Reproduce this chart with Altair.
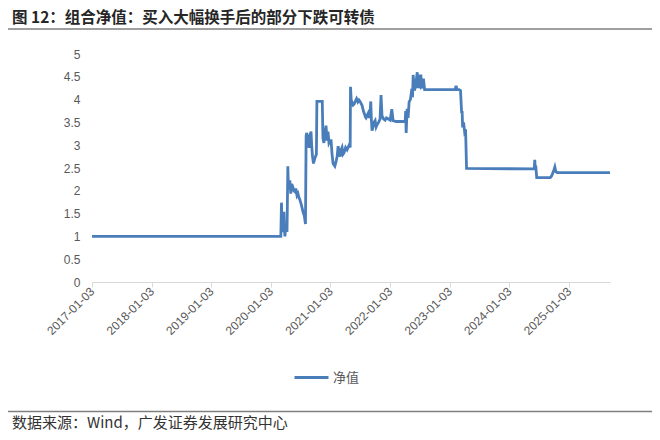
import pandas as pd
import altair as alt

# 组合净值 (date, value)
dates = [
    "2017-01-03", "2020-03-05", "2020-03-09", "2020-03-12", "2020-03-15", "2020-03-19",
    "2020-03-24", "2020-03-27", "2020-03-30", "2020-04-05", "2020-04-12", "2020-04-17",
    "2020-04-20", "2020-04-23", "2020-04-29", "2020-05-05", "2020-05-11", "2020-05-18",
    "2020-05-24", "2020-05-30", "2020-06-05", "2020-06-12", "2020-06-18", "2020-06-24",
    "2020-06-30", "2020-07-08", "2020-07-19", "2020-07-27", "2020-08-03", "2020-08-07",
    "2020-08-10", "2020-08-13", "2020-08-19", "2020-08-25", "2020-08-30", "2020-09-06",
    "2020-09-10", "2020-09-15", "2020-09-21", "2020-09-25", "2020-09-30", "2020-10-09",
    "2020-10-12", "2020-11-14", "2020-11-18", "2020-11-24", "2020-11-30", "2020-12-07",
    "2020-12-13", "2020-12-19", "2020-12-25", "2021-01-01", "2021-01-07", "2021-01-13",
    "2021-01-19", "2021-01-30", "2021-02-07", "2021-02-13", "2021-02-19", "2021-02-25",
    "2021-03-03", "2021-03-09", "2021-03-15", "2021-03-21", "2021-03-27", "2021-04-06",
    "2021-04-15", "2021-04-27", "2021-05-04", "2021-05-06", "2021-05-10", "2021-05-15",
    "2021-05-22", "2021-05-28", "2021-06-05", "2021-06-12", "2021-06-20", "2021-06-27",
    "2021-07-05", "2021-07-16", "2021-07-24", "2021-07-31", "2021-08-05", "2021-08-09",
    "2021-08-15", "2021-08-22", "2021-08-28", "2021-09-03", "2021-09-07", "2021-09-11",
    "2021-09-15", "2021-09-21", "2021-09-27", "2021-10-04", "2021-10-10", "2021-10-16",
    "2021-10-25", "2021-11-03", "2021-11-09", "2021-11-15", "2021-11-24", "2021-12-04",
    "2021-12-12", "2021-12-22", "2022-01-04", "2022-01-14", "2022-01-22", "2022-02-10",
    "2022-03-10", "2022-04-06", "2022-04-09", "2022-04-12", "2022-04-18", "2022-04-24",
    "2022-04-30", "2022-05-08", "2022-05-17", "2022-05-21", "2022-05-25", "2022-06-01",
    "2022-06-06", "2022-06-12", "2022-06-19", "2022-06-23", "2022-06-27", "2022-07-01",
    "2022-07-06", "2022-07-11", "2022-07-16", "2022-07-22", "2022-07-27", "2022-08-03",
    "2023-02-06", "2023-02-12", "2023-02-17", "2023-03-02", "2023-03-11", "2023-03-18",
    "2023-03-21", "2023-03-24", "2023-03-30", "2023-04-05", "2023-04-11", "2023-04-17",
    "2024-06-05", "2024-06-08", "2024-06-11", "2024-06-14", "2024-06-20", "2024-09-11",
    "2024-09-20", "2024-10-03", "2024-10-09", "2024-10-15", "2024-10-24", "2025-09-12",
]
values = [
    1.00, 1.00, 1.74, 1.30, 1.09, 1.40,
    1.54, 1.20, 1.00, 1.22, 1.10, 2.54,
    2.10, 2.05, 2.23, 1.94, 2.15, 2.08,
    2.00, 1.98, 2.05, 1.90, 1.94, 1.85,
    1.80, 1.70, 1.54, 1.45, 1.27, 3.20,
    3.27, 3.24, 3.10, 2.94, 3.20, 3.30,
    3.00, 2.76, 2.60, 2.65, 2.72, 2.80,
    3.96, 3.96, 3.16, 3.05, 3.25, 3.43,
    3.10, 3.30, 3.05, 3.10, 3.10, 2.80,
    2.60, 2.54, 2.65, 2.75, 2.98, 2.85,
    2.75, 2.90, 2.95, 2.80, 2.83, 2.95,
    2.90, 3.00, 2.95, 4.28, 4.00, 3.94,
    3.88, 3.90, 3.97, 4.02, 3.95, 3.99,
    3.95, 3.87, 3.75, 3.68, 3.62, 3.60,
    3.65, 3.70, 3.60, 3.70, 3.96, 3.55,
    3.32, 3.40, 3.50, 3.54, 3.40, 3.45,
    3.50, 3.57, 4.10, 3.64, 3.58, 3.55,
    3.60, 3.58, 3.55, 3.79, 3.54, 3.52,
    3.52, 3.52, 3.75, 3.27, 3.80, 3.60,
    3.95, 4.00, 4.24, 4.05, 4.54, 4.20,
    4.25, 4.40, 4.60, 4.25, 4.55, 4.30,
    4.28, 4.55, 4.25, 4.30, 4.46, 4.22,
    4.22, 4.30, 4.22, 4.22, 4.20, 3.70,
    3.75, 3.39, 3.50, 3.30, 3.35, 2.49,
    2.48, 2.68, 2.50, 2.55, 2.29, 2.29,
    2.33, 2.45, 2.52, 2.42, 2.40, 2.40,
]
tick_dates = ["2017-01-03", "2018-01-03", "2019-01-03", "2020-01-03", "2021-01-03",
              "2022-01-03", "2023-01-03", "2024-01-03", "2025-01-03"]
y_ticks = [0, 0.5, 1, 1.5, 2, 2.5, 3, 3.5, 4, 4.5, 5]

title_text = "图 12：组合净值：买入大幅换手后的部分下跌可转债"
source_text = "数据来源：Wind，广发证券发展研究中心"

df = pd.DataFrame({"date": dates, "value": values, "series": "净值"})

line = alt.Chart(df).mark_line(strokeWidth=2.8, interpolate="linear").encode(
    x=alt.X("date:T",
            scale=alt.Scale(type="utc", domain=["2017-01-03", "2025-09-12"]),
            axis=alt.Axis(values=tick_dates,
                          labelExpr="utcFormat(datum.value, '%Y-%m-%d')",
                          labelAngle=-45, labelAlign="right", labelBaseline="middle",
                          labelPadding=2, tickSize=5, tickColor="#d9d9d9",
                          domainColor="#d9d9d9", grid=False, title=None)),
    y=alt.Y("value:Q",
            scale=alt.Scale(domain=[0, 5], nice=False),
            axis=alt.Axis(values=y_ticks, format="~g", ticks=False, domain=False,
                          grid=False, labelPadding=12, title=None)),
    color=alt.Color("series:N",
                    scale=alt.Scale(domain=["净值"], range=["#4a7ebb"]),
                    legend=alt.Legend(title=None, orient="none", legendX=201, legendY=305,
                                      symbolType="stroke", symbolSize=1156,
                                      symbolStrokeWidth=3, labelFont="Noto Sans CJK SC",
                                      labelFontSize=13, labelColor="#595959",
                                      labelOffset=3, padding=0)),
)

one = pd.DataFrame({"t": [title_text], "s": [source_text]})

title = alt.Chart(one).mark_text(align="left", baseline="top", font="Noto Sans CJK SC",
                                 fontSize=15.5, fontWeight="bold", color="#262626").encode(
    x=alt.value(-80), y=alt.value(-43), text="t:N")
source = alt.Chart(one).mark_text(align="left", baseline="middle", font="Noto Sans CJK SC",
                                  fontSize=15, color="#333333").encode(
    x=alt.value(-80), y=alt.value(369), text="s:N")
top_rule = alt.Chart(one).mark_rule(color="#7f7f7f", strokeWidth=1.5).encode(
    x=alt.value(-84), x2=alt.value(560), y=alt.value(-25))
bottom_rule = alt.Chart(one).mark_rule(color="#7f7f7f", strokeWidth=1.5).encode(
    x=alt.value(-84), x2=alt.value(560), y=alt.value(357.5))

chart = alt.layer(line, title, source, top_rule, bottom_rule).properties(
    width=518, height=228,
    autosize=alt.AutoSizeParams(type="none"),
    padding={"left": 84, "top": 46, "right": 42, "bottom": 150},
).configure_view(stroke=None).configure_axis(
    labelFont="Liberation Sans", labelFontSize=12, labelColor="#595959"
)

chart.save("out.html", embed_options={"renderer": "svg", "actions": False})
